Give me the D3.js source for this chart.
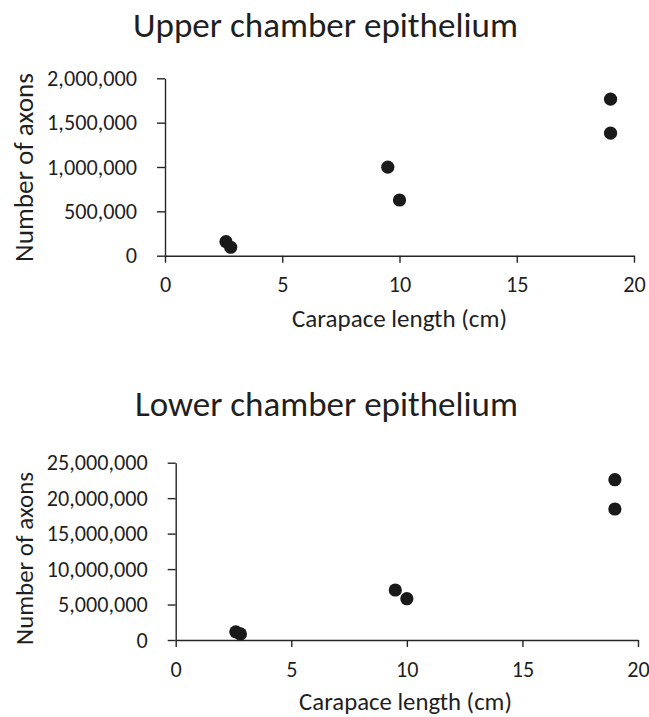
<!DOCTYPE html>
<html>
<head>
<meta charset="utf-8">
<script src="https://cdn.jsdelivr.net/npm/d3@7"></script>
<style>
  html, body { margin: 0; padding: 0; background: #fff; }
  svg text { font-family: Carlito, Calibri, Lato, sans-serif; fill: #1f1f1f; }
</style>
</head>
<body>
<svg id="chart" width="649" height="717"></svg>
<script>
// ---- data ----
const titles = ["Upper chamber epithelium", "Lower chamber epithelium"];
const xTitle = "Carapace length (cm)";
const yTitle = "Number of axons";
const xTicks = [0, 5, 10, 15, 20];
const upperYTicks = [0, 500000, 1000000, 1500000, 2000000];
const lowerYTicks = [0, 5000000, 10000000, 15000000, 20000000, 25000000];
const upperX = [2.6, 2.8, 9.5, 10.0, 19.0, 19.0];
const upperY = [158000, 95000, 998000, 628000, 1765000, 1381000];
const lowerX = [2.6, 2.8, 9.5, 10.0, 19.0, 19.0];
const lowerY = [1150000, 850000, 7050000, 5820000, 22600000, 18470000];

const svg = d3.select("#chart");
const fmt = d3.format(",");

function fitText(sel, target) {
  const base = 20;
  sel.attr("font-size", base);
  const w = sel.node().getComputedTextLength();
  sel.attr("font-size", base * target / w);
}

const panels = [
  { title: titles[0], xs: upperX, ys: upperY, yTicks: upperYTicks,
    x0: 165, x1: 634, y0: 255.7, y1: 78.3,
    titleX: 325.5, titleY: 37, titleW: 385,
    xtX: 399.5, xtY: 327, xtW: 215,
    ytX: 33, ytY: 167.5, ytW: 189, tickW: 90, tickRef: "2,000,000" },
  { title: titles[1], xs: lowerX, ys: lowerY, yTicks: lowerYTicks,
    x0: 175.7, x1: 638, y0: 640, y1: 462.7,
    titleX: 326.5, titleY: 416, titleW: 383,
    xtX: 405.5, xtY: 710, xtW: 213,
    ytX: 33, ytY: 558.5, ytW: 173, tickW: 101, tickRef: "25,000,000" }
];

// measure tick font size
panels.forEach(p => {
  const t = svg.append("text").text(p.tickRef);
  fitText(t, p.tickW);
  p.tickFont = +t.attr("font-size");
  t.remove();
});

panels.forEach(p => {
  const x = d3.scaleLinear().domain([0, 20]).range([p.x0, p.x1]);
  const yMax = p.yTicks[p.yTicks.length - 1];
  const y = d3.scaleLinear().domain([0, yMax]).range([p.y0, p.y1]);
  const g = svg.append("g");

  const xa = g.append("g").attr("transform", `translate(0,${p.y0})`)
    .call(d3.axisBottom(x).tickValues(xTicks).tickSize(7).tickPadding(14).tickSizeOuter(0).tickFormat(d3.format("d")));
  const ya = g.append("g").attr("transform", `translate(${p.x0},0)`)
    .call(d3.axisLeft(y).tickValues(p.yTicks).tickSize(8).tickPadding(20).tickSizeOuter(0).tickFormat(fmt));
  [xa, ya].forEach(a => {
    a.selectAll("path, line").attr("stroke", "#262626").attr("stroke-width", 1.4);
    a.selectAll("text").attr("font-size", p.tickFont).attr("fill", "#1f1f1f")
      .style("font-family", "Carlito, Calibri, Lato, sans-serif");
  });

  const t = g.append("text").attr("x", p.titleX).attr("y", p.titleY)
    .attr("text-anchor", "middle").text(p.title);
  fitText(t, p.titleW);

  const xt = g.append("text").attr("x", p.xtX).attr("y", p.xtY)
    .attr("text-anchor", "middle").text(xTitle);
  fitText(xt, p.xtW);

  const yt = g.append("text")
    .attr("transform", `translate(${p.ytX},${p.ytY}) rotate(-90)`)
    .attr("text-anchor", "middle").text(yTitle);
  fitText(yt, p.ytW);

  g.selectAll("circle.pt").data(p.xs.map((v, i) => [v, p.ys[i]]))
    .join("circle").attr("class", "pt")
    .attr("cx", d => x(d[0])).attr("cy", d => y(d[1]))
    .attr("r", 6.6).attr("fill", "#1a1a1a");
});
</script>
</body>
</html>
